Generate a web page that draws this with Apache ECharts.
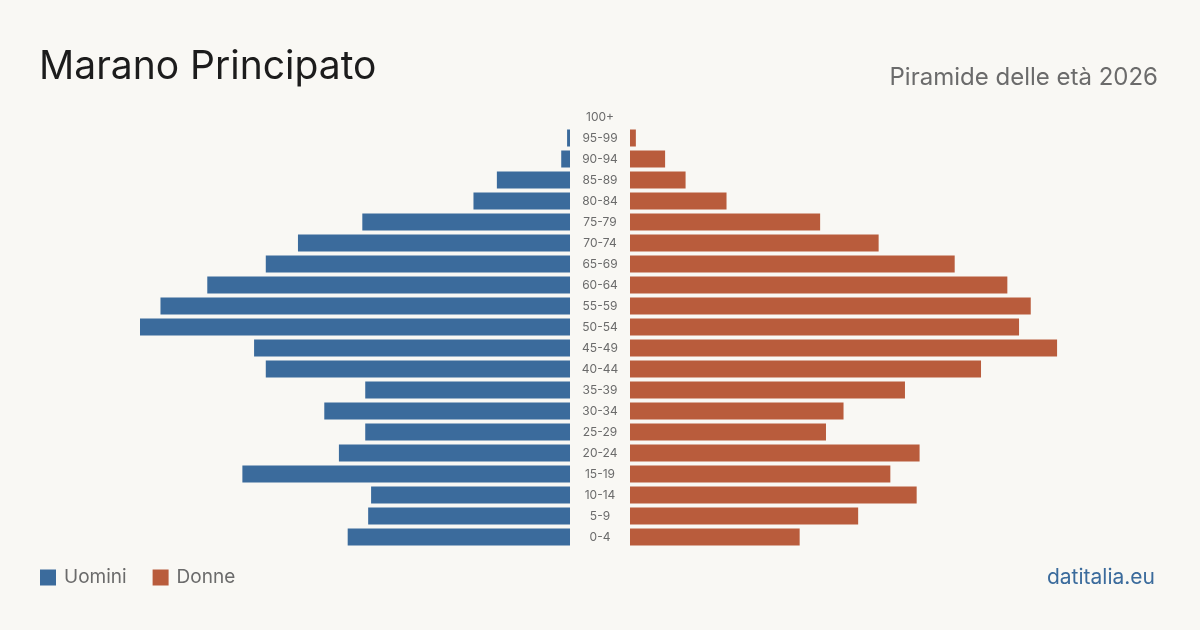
<!DOCTYPE html>
<html>
<head>
<meta charset="utf-8">
<script src="https://cdn.jsdelivr.net/npm/echarts@6/dist/echarts.min.js"></script>
<style>
  html, body { margin: 0; padding: 0; background: #f9f8f4; }
  #chart { width: 1200px; height: 630px; }
</style>
</head>
<body>
<div id="chart"></div>
<script>
// age classes, top to bottom as in the picture
const ageGroups = ["100+", "95-99", "90-94", "85-89", "80-84", "75-79", "70-74", "65-69", "60-64", "55-59",
    "50-54", "45-49", "40-44", "35-39", "30-34", "25-29", "20-24", "15-19", "10-14", "5-9", "0-4"];

const men = [0, 1, 3, 25, 33, 71, 93, 104, 124, 140, 147, 108, 104, 70, 84, 70, 79, 112, 68, 69, 76];
const women = [0, 2, 12, 19, 33, 65, 85, 111, 129, 137, 133, 146, 120, 94, 73, 67, 99, 89, 98, 78, 58];

const blue = "#3b6b9c";
const orange = "#b95c3c";
const font = "Inter, 'Noto Sans', sans-serif";

const maxValue = Math.max(...men, ...women);

const chart = echarts.init(document.getElementById("chart"));

chart.setOption({
    backgroundColor: "#f9f8f4",
    animation: false,
    textStyle: { fontFamily: font },
    title: [
        {
            text: "Marano Principato",
            left: 34,
            top: 43,
            textStyle: { fontSize: 39, fontWeight: "normal", color: "#1c1c1c", fontFamily: font }
        },
        {
            text: "Piramide delle età 2026",
            right: 37,
            top: 61,
            textStyle: { fontSize: 24, fontWeight: "normal", color: "#6b6b6b", fontFamily: font }
        },
        {
            text: "datitalia.eu",
            right: 40,
            top: 562,
            textStyle: { fontSize: 21, fontWeight: "normal", color: blue, fontFamily: font }
        }
    ],
    legend: {
        left: 35,
        top: 563,
        itemWidth: 16,
        itemHeight: 16,
        itemGap: 26,
        icon: "rect",
        textStyle: { fontSize: 19, color: "#6b6b6b", fontFamily: font, padding: [0, 0, 0, 3] },
        data: ["Uomini", "Donne"]
    },
    grid: [
        { left: 140, width: 430, top: 106.5, height: 441 },
        { left: 630, width: 430, top: 106.5, height: 441 }
    ],
    xAxis: [
        { gridIndex: 0, type: "value", min: 0, max: maxValue, inverse: true, show: false },
        { gridIndex: 1, type: "value", min: 0, max: maxValue, show: false }
    ],
    yAxis: [
        {
            gridIndex: 0,
            type: "category",
            data: ageGroups,
            inverse: true,
            position: "right",
            axisLine: { show: false },
            axisTick: { show: false },
            axisLabel: {
                margin: 30,
                align: "center",
                fontSize: 12,
                color: "#6b6b6b",
                fontFamily: font
            }
        },
        {
            gridIndex: 1,
            type: "category",
            data: ageGroups,
            inverse: true,
            show: false
        }
    ],
    series: [
        {
            name: "Uomini",
            type: "bar",
            xAxisIndex: 0,
            yAxisIndex: 0,
            data: men,
            barCategoryGap: "19%",
            itemStyle: { color: blue }
        },
        {
            name: "Donne",
            type: "bar",
            xAxisIndex: 1,
            yAxisIndex: 1,
            data: women,
            barCategoryGap: "19%",
            itemStyle: { color: orange }
        }
    ]
});
</script>
</body>
</html>
